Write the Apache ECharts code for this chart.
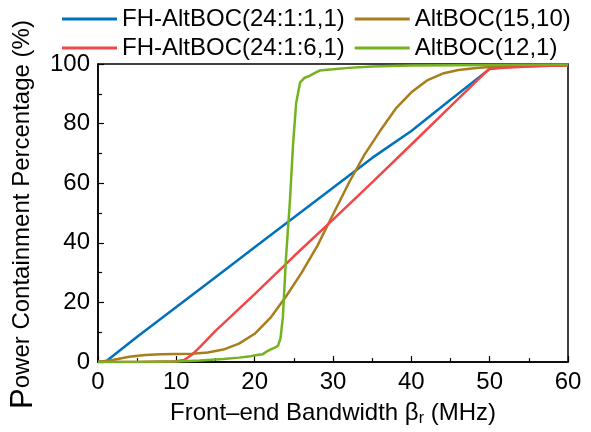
<!DOCTYPE html>
<html>
<head>
<meta charset="utf-8">
<script src="https://cdn.jsdelivr.net/npm/echarts@6/dist/echarts.min.js"></script>
<style>html,body{margin:0;padding:0;background:#fff}#c{width:591px;height:432px}</style>
</head>
<body>
<div id="c"></div>
<script>
const seriesNames = ['FH-AltBOC(24:1:1,1)', 'AltBOC(15,10)', 'FH-AltBOC(24:1:6,1)', 'AltBOC(12,1)'];
const colors = ['#0072BD', '#A87E1C', '#F04848', '#72B31E'];
const xTicks = [0, 10, 20, 30, 40, 50, 60];
const yTicks = [0, 20, 40, 60, 80, 100];

// [bandwidth MHz, percentage]
const fh11 = [[0,0],[1,0.2],[5,8.5],[10,18.5],[15,28.5],[20,38.5],[25,48.5],[30,58.5],[35,68.5],[40,77.5],[45,88],[50,98.3],[52,99],[55,99.3],[60,99.6]];
const alt1510 = [[0,0],[2,0.8],[4,1.8],[6,2.4],[8,2.6],[10,2.7],[12,2.8],[14,3.2],[16,4.2],[18,6.2],[20,9.5],[22,14.8],[24,22],[26,30],[28,39],[30,49.5],[32,60],[34,69.5],[36,77.5],[38,85],[40,90.5],[42,94.5],[44,96.8],[46,98],[48,98.6],[50,99],[55,99.3],[60,99.6]];
const fh61 = [[0,0],[5,0],[10,0.3],[11,0.7],[12,2.5],[13,5],[15,10.5],[20,22.8],[25,35.5],[30,47.8],[35,60.3],[40,73],[45,85.8],[50,98.5],[55,99.2],[60,99.6]];
const alt121 = [[0,0],[5,0],[10,0.2],[13,0.5],[16,1],[18,1.5],[19.5,2],[20.5,2.5],[21,2.6],[21.5,3.5],[22,4.2],[22.7,5],[23,5.6],[23.3,8],[23.6,15],[24,35],[24.5,54],[24.9,73],[25.3,87],[25.8,93.8],[26.4,95.4],[27,96],[27.7,97],[28.3,97.8],[30,98.2],[32,98.7],[35,99.2],[40,99.5],[50,99.7],[60,99.8]];
const seriesData = [fh11, alt1510, fh61, alt121];

const FONT = 'Liberation Sans, Arial, sans-serif';
const chart = echarts.init(document.getElementById('c'), null, {renderer: 'canvas'});

const legendBase = {
  icon: 'rect', itemWidth: 55, itemHeight: 3, itemGap: 10, left: 57,
  textStyle: {fontFamily: FONT, fontSize: 24, color: '#000'},
  selectedMode: false
};

chart.setOption({
  animation: false,
  color: colors,
  legend: [
    Object.assign({}, legendBase, {top: 2, data: [seriesNames[0], seriesNames[1]]}),
    Object.assign({}, legendBase, {top: 31, data: [seriesNames[2], seriesNames[3]]})
  ],
  grid: {left: 98, right: 23, top: 64, bottom: 63, containLabel: false,
         show: true, borderColor: '#000', borderWidth: 1.5},
  xAxis: {
    type: 'value', min: xTicks[0], max: xTicks[xTicks.length-1], interval: 10,
    axisLine: {show: true, lineStyle: {color: '#000', width: 1.5}},
    axisTick: {show: true, inside: true, length: 6, lineStyle: {color: '#000', width: 1.2}},
    minorTick: {show: true, splitNumber: 2, length: 4, lineStyle: {color: '#000', width: 1.2}},
    splitLine: {show: false},
    axisLabel: {fontFamily: FONT, fontSize: 24, color: '#000', margin: 8},
    name: 'Front–end Bandwidth β{sub|r} (MHz)',
    nameLocation: 'middle', nameGap: 31,
    nameTextStyle: {fontFamily: FONT, fontSize: 24, color: '#000', lineHeight: 28,
      rich: {sub: {fontFamily: FONT, fontSize: 16, lineHeight: 14, verticalAlign: 'bottom', color: '#000'}}}
  },
  yAxis: {
    type: 'value', min: yTicks[0], max: yTicks[yTicks.length-1], interval: 20,
    axisLine: {show: true, lineStyle: {color: '#000', width: 1.5}},
    axisTick: {show: true, inside: true, length: 6, lineStyle: {color: '#000', width: 1.2}},
    minorTick: {show: true, splitNumber: 2, length: 4, lineStyle: {color: '#000', width: 1.2}},
    splitLine: {show: false},
    axisLabel: {fontFamily: FONT, fontSize: 24, color: '#000', margin: 8},
    name: '{big|P}{n|ower Containment Percentage (%)}',
    nameLocation: 'middle', nameGap: 56, nameRotate: 90,
    nameTextStyle: {fontFamily: FONT, color: '#000', padding: [0, 3, 0, 0],
      rich: {
        big: {fontFamily: FONT, fontSize: 31, lineHeight: 31, verticalAlign: 'bottom', color: '#000'},
        n: {fontFamily: FONT, fontSize: 24, lineHeight: 24, verticalAlign: 'bottom', padding: [0,0,5,0], color: '#000'}
      }}
  },
  series: seriesNames.map((n, i) => ({
    name: n, type: 'line', data: seriesData[i], showSymbol: false, symbol: 'none',
    lineStyle: {width: 2.5, color: colors[i]}, itemStyle: {color: colors[i]},
    z: [1,2,3,4][i]
  }))
});
</script>
</body>
</html>
